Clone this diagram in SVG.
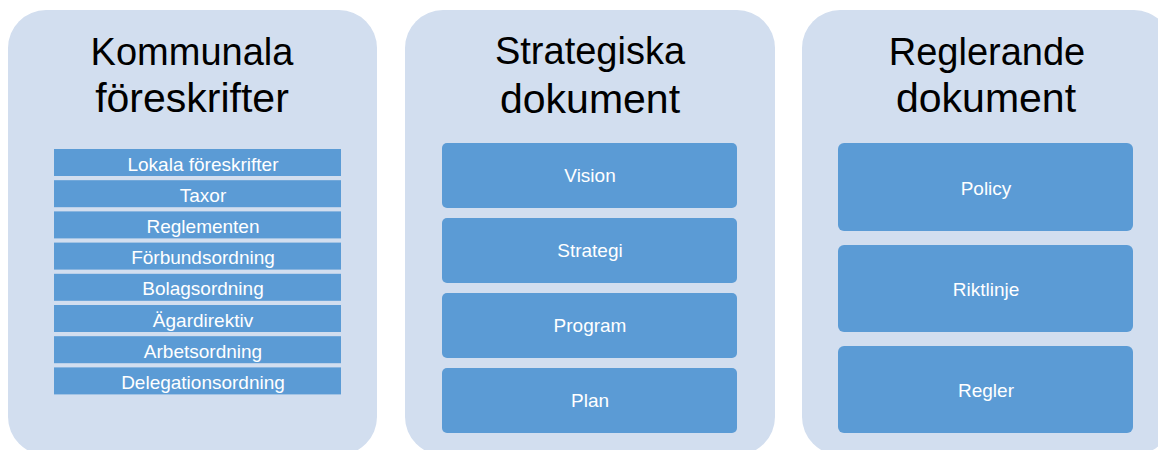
<svg xmlns="http://www.w3.org/2000/svg" width="1158" height="450" viewBox="0 0 1158 450">
<style>
.panel{fill:#D2DEEF}
.box{fill:#5B9BD5}
.title{font-family:"Liberation Sans",Arial,sans-serif;font-size:38px;fill:#000;text-anchor:middle}
.title2{font-family:"Liberation Sans",Arial,sans-serif;font-size:41px;fill:#000;text-anchor:middle}
.lbl{font-family:"Liberation Sans",Arial,sans-serif;font-size:19px;fill:#fff;text-anchor:middle}
</style>
<rect width="1158" height="450" fill="#fff"/>
<g id="panel-kommunala">
<rect class="panel" x="8" y="10" width="369" height="445" rx="38" ry="38"/>
<text class="title" x="192" y="65">Kommunala</text>
<text class="title2" x="192" y="112">föreskrifter</text>
</g>
<g id="panel-strategiska">
<rect class="panel" x="405" y="10" width="370" height="445" rx="38" ry="38"/>
<text class="title" x="590" y="64">Strategiska</text>
<text class="title2" x="590" y="113">dokument</text>
</g>
<g id="panel-reglerande">
<rect class="panel" x="802" y="10" width="370" height="445" rx="38" ry="38"/>
<text class="title" x="987" y="65">Reglerande</text>
<text class="title2" x="986" y="112">dokument</text>
</g>
<g id="k-lokala"><rect class="box" x="54" y="149" width="287" height="27"/><text class="lbl" x="203" y="170.5">Lokala föreskrifter</text></g>
<g id="k-taxor"><rect class="box" x="54" y="180.2" width="287" height="27"/><text class="lbl" x="203" y="201.7">Taxor</text></g>
<g id="k-reglementen"><rect class="box" x="54" y="211.4" width="287" height="27"/><text class="lbl" x="203" y="232.9">Reglementen</text></g>
<g id="k-forbund"><rect class="box" x="54" y="242.6" width="287" height="27"/><text class="lbl" x="203" y="264.1">Förbundsordning</text></g>
<g id="k-bolag"><rect class="box" x="54" y="273.8" width="287" height="27"/><text class="lbl" x="203" y="295.3">Bolagsordning</text></g>
<g id="k-agardirektiv"><rect class="box" x="54" y="305" width="287" height="27"/><text class="lbl" x="203" y="326.5">Ägardirektiv</text></g>
<g id="k-arbets"><rect class="box" x="54" y="336.2" width="287" height="27"/><text class="lbl" x="203" y="357.7">Arbetsordning</text></g>
<g id="k-delegation"><rect class="box" x="54" y="367.4" width="287" height="27"/><text class="lbl" x="203" y="388.9">Delegationsordning</text></g>
<g id="s-vision"><rect class="box" x="442" y="143" width="295" height="65" rx="5"/><text class="lbl" x="590" y="182">Vision</text></g>
<g id="s-strategi"><rect class="box" x="442" y="218" width="295" height="65" rx="5"/><text class="lbl" x="590" y="257">Strategi</text></g>
<g id="s-program"><rect class="box" x="442" y="293" width="295" height="65" rx="5"/><text class="lbl" x="590" y="332">Program</text></g>
<g id="s-plan"><rect class="box" x="442" y="368" width="295" height="65" rx="5"/><text class="lbl" x="590" y="407">Plan</text></g>
<g id="r-policy"><rect class="box" x="838" y="143" width="295" height="88" rx="6"/><text class="lbl" x="986" y="194.5">Policy</text></g>
<g id="r-riktlinje"><rect class="box" x="838" y="245" width="295" height="87" rx="6"/><text class="lbl" x="986" y="295.5">Riktlinje</text></g>
<g id="r-regler"><rect class="box" x="838" y="346" width="295" height="87" rx="6"/><text class="lbl" x="986" y="396.5">Regler</text></g>
<g id="connectors"></g>
</svg>
